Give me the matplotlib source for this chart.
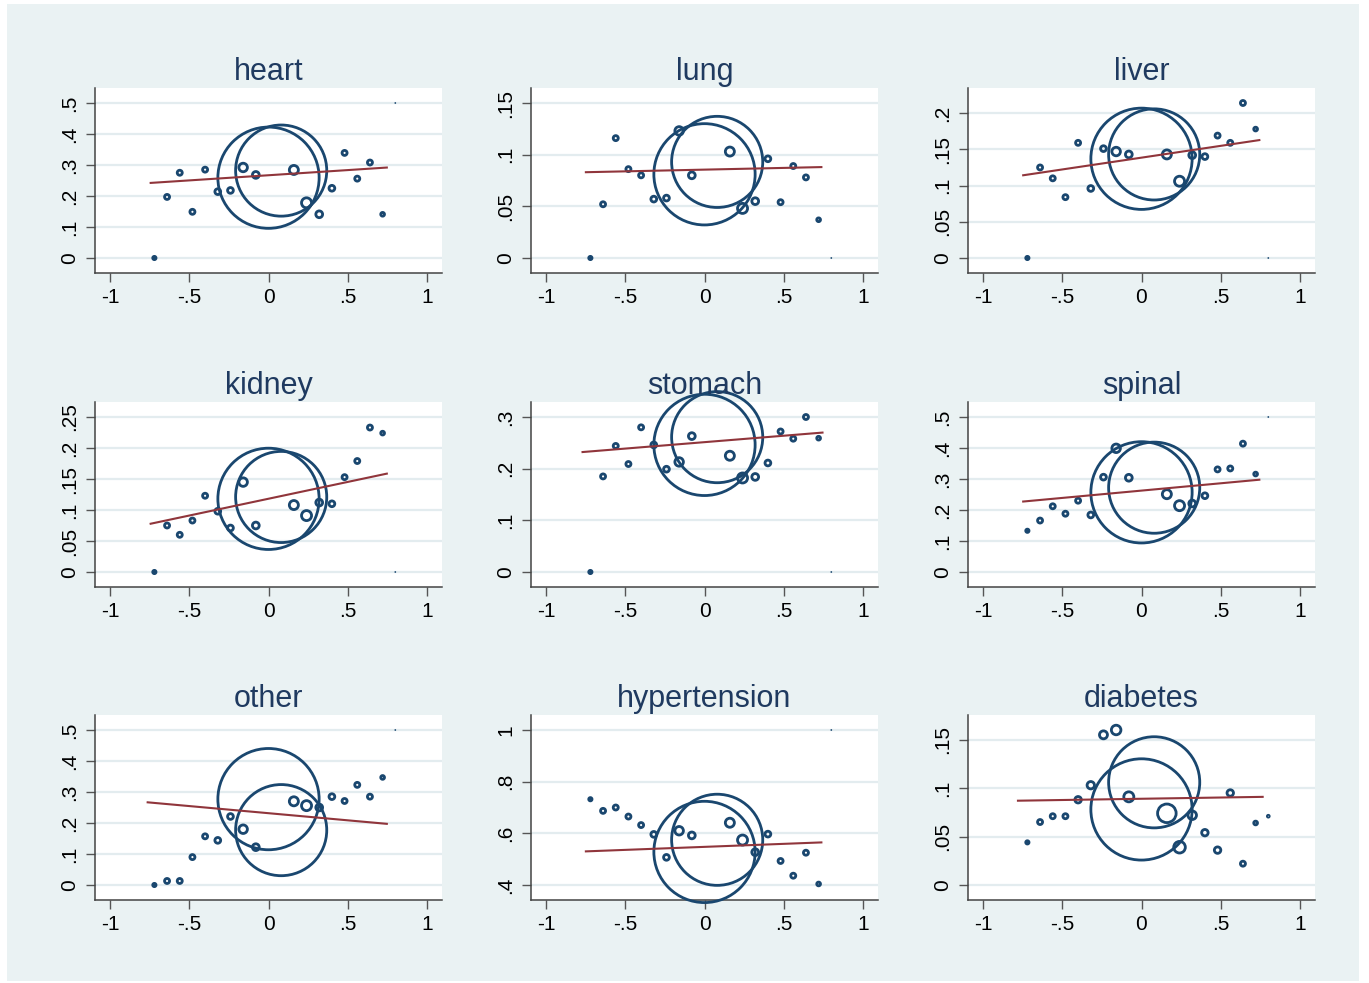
# -*- coding: utf-8 -*-
# Bubble scatter by cause with weighted linear fit, 3x3 panels (Stata s2color look)

import numpy as np
import matplotlib
matplotlib.use('Agg')
import matplotlib.pyplot as plt
from matplotlib.patches import Rectangle

# ---- data ----
panels = ['heart', 'lung', 'liver', 'kidney', 'stomach', 'spinal',
          'other', 'hypertension', 'diabetes']

x_vals = [-0.72, -0.64, -0.56, -0.48, -0.40, -0.32, -0.24, -0.16, -0.08, 0.00,
          0.08, 0.16, 0.24, 0.32, 0.40, 0.48, 0.56, 0.64, 0.72, 0.80]

# relative weights (marker area)
wt_common = [0.6, 1.0, 1.0, 1.0, 1.0, 1.2, 1.2, 2.1, 1.5, 178,
             145, 2.3, 2.7, 1.5, 1.2, 1.0, 1.0, 1.0, 0.7, 0.05]
wt_diabetes = [0.6, 1.0, 1.0, 1.0, 1.4, 1.7, 1.9, 2.5, 2.7, 178,
               145, 7.5, 3.4, 2.1, 1.4, 1.4, 1.4, 1.0, 0.7, 0.35]

y_heart = [0.000, 0.197, 0.275, 0.149, 0.285, 0.214, 0.218, 0.292, 0.268, 0.259,
           0.282, 0.284, 0.178, 0.141, 0.225, 0.339, 0.256, 0.308, 0.141, 0.500]
y_lung = [0.000, 0.052, 0.116, 0.086, 0.080, 0.057, 0.058, 0.123, 0.080, 0.081,
          0.093, 0.103, 0.048, 0.055, 0.096, 0.054, 0.089, 0.078, 0.037, 0.000]
y_liver = [0.000, 0.125, 0.110, 0.084, 0.159, 0.096, 0.151, 0.147, 0.143, 0.137,
           0.143, 0.143, 0.106, 0.142, 0.140, 0.169, 0.159, 0.214, 0.178, 0.000]
y_kidney = [0.000, 0.075, 0.060, 0.083, 0.123, 0.098, 0.071, 0.145, 0.075, 0.118,
            0.121, 0.108, 0.091, 0.112, 0.110, 0.153, 0.179, 0.233, 0.224, 0.000]
y_stomach = [0.000, 0.185, 0.244, 0.209, 0.280, 0.246, 0.199, 0.213, 0.263, 0.246,
             0.261, 0.225, 0.182, 0.184, 0.211, 0.272, 0.258, 0.300, 0.259, 0.000]
y_spinal = [0.133, 0.166, 0.212, 0.188, 0.230, 0.184, 0.306, 0.399, 0.304, 0.257,
            0.272, 0.251, 0.214, 0.221, 0.246, 0.331, 0.334, 0.414, 0.316, 0.500]
y_other = [0.000, 0.013, 0.013, 0.090, 0.157, 0.144, 0.221, 0.180, 0.122, 0.277,
           0.177, 0.270, 0.256, 0.250, 0.285, 0.271, 0.323, 0.285, 0.347, 0.500]
y_hypertension = [0.732, 0.687, 0.700, 0.665, 0.632, 0.596, 0.507, 0.610, 0.592, 0.528,
                  0.575, 0.641, 0.574, 0.527, 0.597, 0.493, 0.436, 0.525, 0.404, 1.000]
y_diabetes = [0.044, 0.065, 0.071, 0.071, 0.088, 0.103, 0.155, 0.160, 0.091, 0.078,
              0.106, 0.074, 0.039, 0.072, 0.054, 0.036, 0.095, 0.022, 0.064, 0.071]

y_ticks = {
    'heart': [0, 0.1, 0.2, 0.3, 0.4, 0.5],
    'lung': [0, 0.05, 0.1, 0.15],
    'liver': [0, 0.05, 0.1, 0.15, 0.2],
    'kidney': [0, 0.05, 0.1, 0.15, 0.2, 0.25],
    'stomach': [0, 0.1, 0.2, 0.3],
    'spinal': [0, 0.1, 0.2, 0.3, 0.4, 0.5],
    'other': [0, 0.1, 0.2, 0.3, 0.4, 0.5],
    'hypertension': [0.4, 0.6, 0.8, 1.0],
    'diabetes': [0, 0.05, 0.1, 0.15],
}
x_ticks = [-1, -0.5, 0, 0.5, 1]

# fitted line end points (x0, x1), (y0, y1)
fit_x = {
    'heart': (-0.750, 0.753), 'lung': (-0.755, 0.744), 'liver': (-0.753, 0.750),
    'kidney': (-0.750, 0.753), 'stomach': (-0.776, 0.751), 'spinal': (-0.753, 0.750),
    'other': (-0.769, 0.753), 'hypertension': (-0.755, 0.744), 'diabetes': (-0.786, 0.771),
}
fit_y = {
    'heart': (0.242, 0.292), 'lung': (0.083, 0.088), 'liver': (0.114, 0.163),
    'kidney': (0.0775, 0.159), 'stomach': (0.232, 0.270), 'spinal': (0.227, 0.298),
    'other': (0.267, 0.197), 'hypertension': (0.530, 0.565), 'diabetes': (0.087, 0.091),
}

# ---- style ----
NAVY = '#1a476f'
MAROON = '#90353b'
BG = '#eaf2f3'
GRID = '#e3ecef'
FIG_W, FIG_H = 1369, 983
COL_LEFT = [95, 531, 968]
ROW_TOP = [88, 402, 715]
AX_W, AX_H = 347, 185
MARGIN_PX = 15

plt.rcParams['font.family'] = ['Liberation Sans', 'DejaVu Sans']


def stata_label(v):
    """Format tick value the Stata way: .5 / -.5 instead of 0.5 / -0.5"""
    s = '%g' % v
    if s.startswith('0.'):
        s = s[1:]
    elif s.startswith('-0.'):
        s = '-' + s[2:]
    return s


def padded_range(lo, hi, span_px):
    pad = (hi - lo) * MARGIN_PX / (span_px - 2 * MARGIN_PX)
    return lo - pad, hi + pad


def draw_panel(fig, name, ys, wts, col, row):
    left = COL_LEFT[col] / FIG_W
    bottom = 1 - (ROW_TOP[row] + AX_H) / FIG_H
    ax = fig.add_axes([left, bottom, AX_W / FIG_W, AX_H / FIG_H])
    ax.set_facecolor('white')

    # marker sizes: diameter ~ sqrt(weight)
    diam_px = 7.8 * np.sqrt(np.array(wts))
    lw_px = np.where(diam_px < 3, 0.9, 2.8)
    path_pt = np.clip(diam_px - lw_px, 0.6, None) * 0.72
    ax.scatter(x_vals, ys, s=path_pt ** 2, facecolors='none', edgecolors=NAVY,
               linewidths=lw_px * 0.72, clip_on=False, zorder=3)

    ax.plot(fit_x[name], fit_y[name], color=MAROON, lw=1.5, zorder=4,
            solid_capstyle='butt')

    ticks = y_ticks[name]
    lo = min(ticks[0], min(ys))
    hi = max(ticks[-1], max(ys))
    ax.set_ylim(*padded_range(lo, hi, AX_H))
    ax.set_xlim(*padded_range(x_ticks[0], x_ticks[-1], AX_W))

    ax.set_yticks(ticks)
    ax.set_yticklabels([stata_label(t) for t in ticks], rotation=90, va='center')
    ax.set_xticks(x_ticks)
    ax.set_xticklabels([stata_label(t) for t in x_ticks])
    ax.tick_params(axis='both', length=6.5, width=1.0, color='#555555',
                   labelsize=15, labelcolor='black', pad=4)
    ax.tick_params(axis='y', pad=5)

    ax.grid(axis='y', color=GRID, lw=1.6, zorder=0)
    ax.set_axisbelow(True)
    for side in ['top', 'right']:
        ax.spines[side].set_visible(False)
    for side in ['left', 'bottom']:
        ax.spines[side].set_color('#444444')
        ax.spines[side].set_linewidth(1.1)

    ax.set_title(name, fontsize=22, color='#1f3a60', pad=5.5)
    return ax


def main():
    fig = plt.figure(figsize=(FIG_W / 100, FIG_H / 100), dpi=100)
    fig.patch.set_facecolor('white')
    fig.patches.append(Rectangle((7 / FIG_W, 2 / FIG_H), 1352 / FIG_W, 977 / FIG_H,
                                 transform=fig.transFigure, facecolor=BG,
                                 edgecolor='none', zorder=-10))

    y_data = [y_heart, y_lung, y_liver, y_kidney, y_stomach, y_spinal,
              y_other, y_hypertension, y_diabetes]
    for i, name in enumerate(panels):
        wts = wt_diabetes if name == 'diabetes' else wt_common
        draw_panel(fig, name, y_data[i], wts, i % 3, i // 3)

    fig.savefig('out.png', dpi=100, facecolor=fig.get_facecolor())
    plt.close(fig)


if __name__ == '__main__':
    main()
